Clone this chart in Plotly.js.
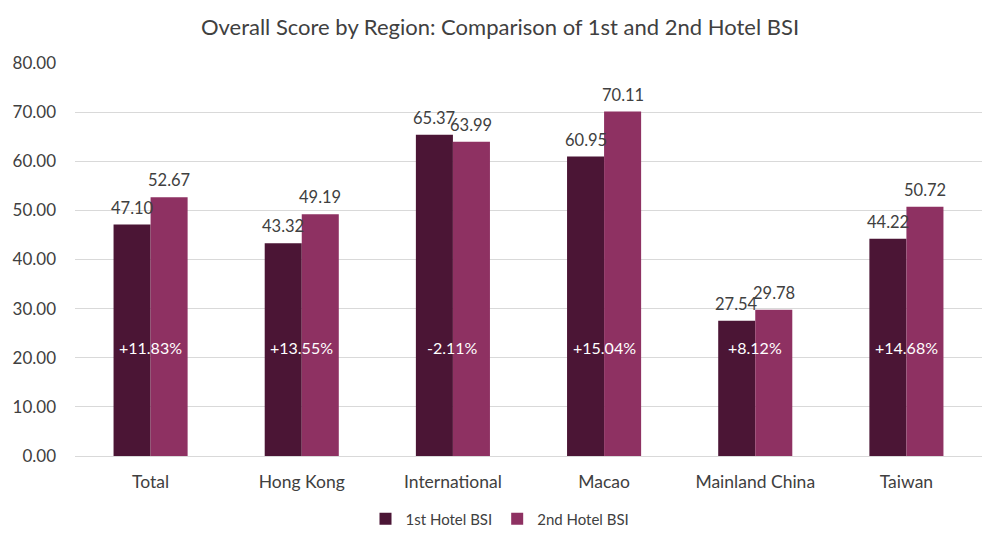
<!DOCTYPE html>
<html>
<head>
<meta charset="utf-8">
<script src="https://cdn.plot.ly/plotly-3.0.1.min.js"></script>
<style>
  html, body { margin: 0; padding: 0; background: #fff; }
  #chart { width: 1000px; height: 544px; }
</style>
</head>
<body>
<div id="chart"></div>
<script>
const regions = ['Total', 'Hong Kong', 'International', 'Macao', 'Mainland China', 'Taiwan'];
const firstBsi = [47.10, 43.32, 65.37, 60.95, 27.54, 44.22];
const secondBsi = [52.67, 49.19, 63.99, 70.11, 29.78, 50.72];
const changeLabels = ['+11.83%', '+13.55%', '-2.11%', '+15.04%', '+8.12%', '+14.68%'];
const changeLabelY = 22;

const fontFamily = 'Lato, "Open Sans", sans-serif';
const textGray = '#404040';
const barOffset = 18.5; // px from category centre to each bar centre

const traceFirst = {
	x: regions,
	y: firstBsi,
	type: 'bar',
	name: '1st Hotel BSI',
	marker: { color: '#4b1535' },
	hoverinfo: 'skip',
};

const traceSecond = {
	x: regions,
	y: secondBsi,
	type: 'bar',
	name: '2nd Hotel BSI',
	marker: { color: '#8e3162' },
	hoverinfo: 'skip',
};

// value labels above bars
function valueLabels(values, shift) {
	return regions.map((region, i) => ({
		x: region,
		y: values[i],
		xref: 'x',
		yref: 'y',
		xshift: shift,
		yshift: 5,
		yanchor: 'bottom',
		text: values[i].toFixed(2),
		showarrow: false,
		font: { family: fontFamily, size: 16.5, color: textGray },
	}));
}

// white percentage-change labels sitting across each pair of bars
const changeAnnotations = regions.map((region, i) => ({
	x: region,
	y: changeLabelY,
	xref: 'x',
	yref: 'y',
	text: changeLabels[i],
	showarrow: false,
	font: { family: fontFamily, size: 16, color: '#ffffff' },
}));

const layout = {
	width: 1000,
	height: 544,
	margin: { t: 63, b: 88, l: 75, r: 18 },
	paper_bgcolor: '#ffffff',
	plot_bgcolor: '#ffffff',
	title: {
		text: 'Overall Score by Region: Comparison of 1st and 2nd Hotel BSI',
		x: 0.5,
		xanchor: 'center',
		y: 1 - 27 / 544,
		yanchor: 'middle',
		font: { family: fontFamily, size: 22, color: textGray },
	},
	barmode: 'group',
	bargap: 0.51,
	bargroupgap: 0,
	xaxis: {
		type: 'category',
		showline: true,
		linecolor: '#d9d9d9',
		ticks: '',
		ticklabelstandoff: 10,
		automargin: false,
		tickfont: { family: fontFamily, size: 17.5, color: textGray },
	},
	yaxis: {
		range: [0, 80],
		dtick: 10,
		tickformat: '.2f',
		showgrid: true,
		gridcolor: '#d9d9d9',
		zeroline: false,
		ticks: '',
		ticklabelstandoff: 18,
		automargin: false,
		tickfont: { family: fontFamily, size: 17, color: textGray },
	},
	showlegend: true,
	legend: {
		orientation: 'h',
		x: 0.5,
		xanchor: 'center',
		xref: 'container',
		y: 25 / 544,
		yanchor: 'middle',
		yref: 'container',
		itemwidth: 30,
		font: { family: fontFamily, size: 15, color: textGray },
	},
	annotations: [
		...valueLabels(firstBsi, -barOffset),
		...valueLabels(secondBsi, barOffset),
		...changeAnnotations,
	],
};

Plotly.newPlot('chart', [traceFirst, traceSecond], layout, { displayModeBar: false });
</script>
</body>
</html>
